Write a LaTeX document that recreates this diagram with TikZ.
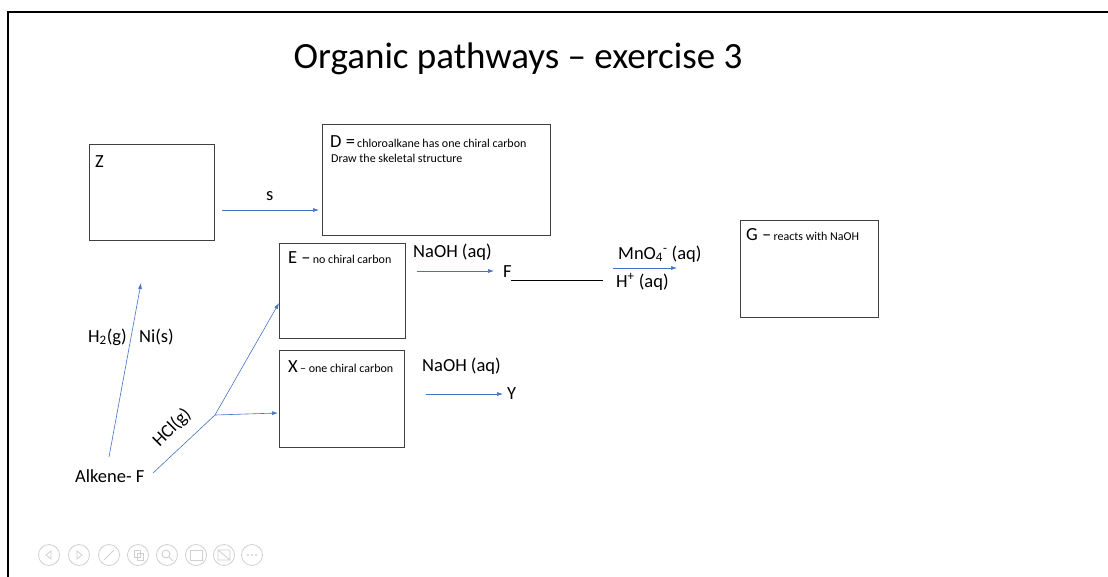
\documentclass[tikz,border=0pt]{standalone}
\usepackage{fontspec}
\setmainfont{Carlito}
\usetikzlibrary{arrows.meta}
\definecolor{arrblue}{HTML}{4472C4}
\definecolor{icongray}{HTML}{D0D0D0}
\tikzset{
  box/.style={draw=black!75, line width=0.9pt, inner sep=0pt, anchor=north west},
  arr/.style={draw=arrblue, line width=0.6pt, -{Latex[length=6pt,width=4pt]}},
  bline/.style={draw=arrblue, line width=0.6pt},
  big/.style={font=\fontsize{18.5}{21}\selectfont, inner sep=0pt},
  lab/.style={big, anchor=base west},
  boxtext/.style={anchor=base west, inner sep=0pt},
  icon/.style={draw=icongray, line width=0.8pt, circle, minimum size=21pt, inner sep=0pt},
}
\newcommand{\sm}[1]{{\fontsize{12}{14}\selectfont #1}}
\newcommand{\bg}[1]{{\fontsize{18.5}{21}\selectfont #1}}
\begin{document}
\begin{tikzpicture}[x=1pt,y=-1pt]
\useasboundingbox (0,0) rectangle (1108,576);
% frame
\draw[line width=2pt] (8,577) -- (8,12) -- (1109,12);
% title
\node[inner sep=0pt, font=\fontsize{37}{40}\selectfont, anchor=base] (title) at (518,68) {Organic pathways – exercise 3};
% boxes
\node[box, minimum width=125pt, minimum height=96pt] (Z) at (89,144) {};
\node[boxtext] (Zt) at (95,167) {\bg{Z}};
\node[box, minimum width=228pt, minimum height=111pt] (D) at (322,124) {};
\node[boxtext] (Dt) at (330,147) {\bg{D =} \sm{chloroalkane has one chiral carbon}};
\node[boxtext] (Dt2) at (331,162) {\sm{Draw the skeletal structure}};
\node[box, minimum width=126pt, minimum height=95pt] (E) at (279,243) {};
\node[boxtext] (Et) at (288,263) {\bg{E –} \sm{no chiral carbon}};
\node[box, minimum width=125pt, minimum height=97pt] (X) at (279,350) {};
\node[boxtext] (Xt) at (288,372) {\bg{X} \sm{– one chiral carbon}};
\node[box, minimum width=138pt, minimum height=97pt] (G) at (740,220) {};
\node[boxtext] (Gt) at (746,240) {\bg{G –} \sm{reacts with NaOH}};
% Z -> D
\coordinate (s1) at (222,210);
\coordinate (s2) at (319,210);
\draw[arr] (s1) -- (s2);
\node[lab] (slab) at (266,200) {s};
% E -> F
\node[lab] (naoh1) at (413,257) {NaOH (aq)};
\coordinate (e1) at (417,271);
\coordinate (e2) at (494,271);
\draw[arr] (e1) -- (e2);
\node[lab] (F) at (503,277) {F};
\coordinate (u1) at (511,280);
\coordinate (u2) at (603,280);
\draw[line width=0.8pt] (u1) -- (u2);
\node[lab] (mno) at (618,259) {MnO\textsubscript{4}\textsuperscript{-} (aq)};
\coordinate (m1) at (613,268);
\coordinate (m2) at (677,268);
\draw[arr] (m1) -- (m2);
\node[lab] (hplus) at (616,287) {H\textsuperscript{+} (aq)};
% X -> Y
\node[lab] (naoh2) at (422,371) {NaOH (aq)};
\coordinate (y1) at (426,394);
\coordinate (y2) at (503,394);
\draw[arr] (y1) -- (y2);
\node[lab] (Y) at (507,399) {Y};
% alkene
\node[lab] (alk) at (75,482) {Alkene- F};
\coordinate (h1) at (109,457);
\coordinate (h2) at (141,283);
\draw[arr] (h1) -- (h2);
\node[lab] (h2g) at (88,342) {H\textsubscript{2}(g)};
\node[lab] (ni) at (139,342) {Ni(s)};
\coordinate (c1) at (153,473);
\coordinate (br) at (215,415);
\coordinate (toE) at (279,303);
\coordinate (toX) at (278,413);
\draw[bline] (c1) -- (br);
\draw[arr] (br) -- (toE);
\draw[arr] (br) -- (toX);
\node[big, rotate=45] (hcl) at (172,428) {HCl(g)};
% toolbar icons
\foreach \i/\xx in {1/49,2/79,3/109,4/138,5/167,6/196,7/224,8/252} {
  \node[icon] (ic\i) at (\xx,555) {};
}
\draw[icongray, line width=0.8pt] (51,551) -- (46,555) -- (51,559) -- cycle;
\draw[icongray, line width=0.8pt] (77,551) -- (82,555) -- (77,559) -- cycle;
\draw[icongray, line width=0.9pt] (104,560) -- (114,550);
\draw[icongray, line width=0.8pt] (134,550) rectangle (140,557) (137,553) rectangle (143,560);
\draw[icongray, line width=0.9pt] (166,554) circle (4pt) (169,557) -- (173,561);
\draw[icongray, line width=0.8pt] (190,550) rectangle (202,560);
\draw[icongray, line width=0.8pt] (218,550) rectangle (230,560) (218,550) -- (230,560);
\foreach \dx in {-4,0,4} \fill[icongray] (252+\dx,555) circle (1.2pt);
\end{tikzpicture}
\end{document}
